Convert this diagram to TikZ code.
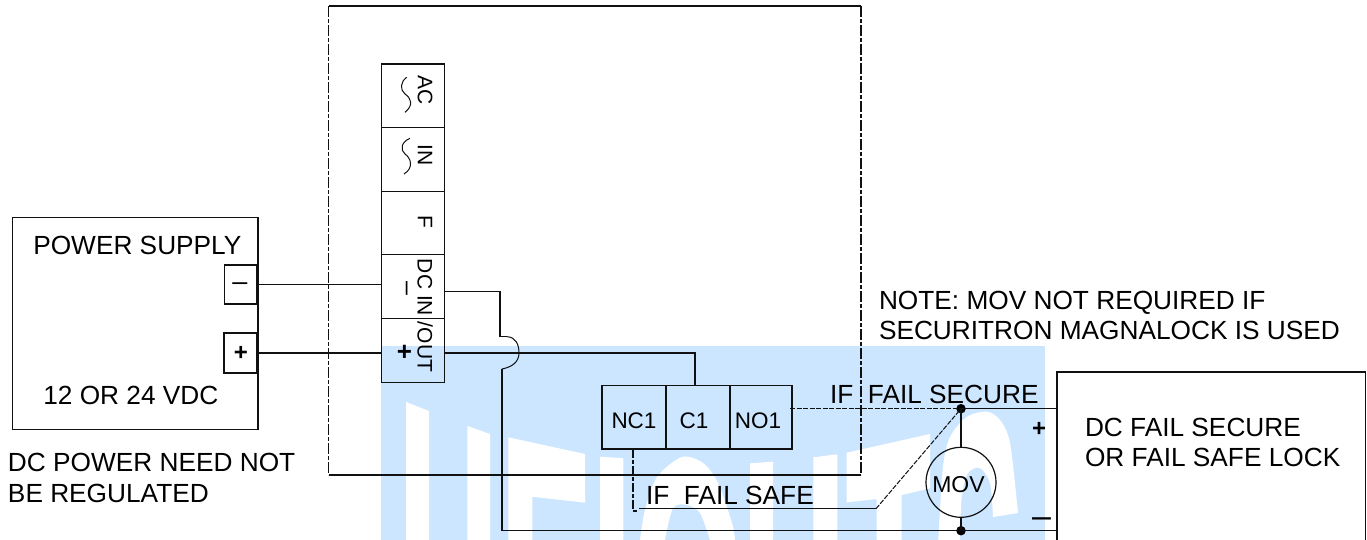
\documentclass[tikz,border=0pt]{standalone}
\usepackage{fontspec}
\setmainfont{Liberation Sans}
\usetikzlibrary{calc}
\definecolor{wm}{HTML}{CCE6FF}
\definecolor{ink}{HTML}{111111}
\newcommand{\lbl}{\fontsize{26.25}{30}\selectfont}
\newcommand{\lblm}{\fontsize{22.5}{26}\selectfont}
\tikzset{
  x=1pt,y=-1pt,
  wire/.style={draw=ink,line width=1.3pt},
  dashwire/.style={draw=ink,line width=1.2pt,dash pattern=on 5pt off 1.5pt},
  boxn/.style={draw=ink,line width=1.4pt,rectangle,inner sep=0pt,outer sep=0pt},
  txt/.style={anchor=base west,inner sep=0pt,outer sep=0pt,text=black,font=\lbl},
  midtxt/.style={inner sep=0pt,outer sep=0pt,text=black,font=\lblm},
  rottxt/.style={inner sep=0pt,outer sep=0pt,text=black,font=\fontsize{21}{24}\selectfont,rotate=-90},
  dotn/.style={circle,fill=black,inner sep=0pt,minimum size=9.5pt,outer sep=0pt},
  wmw/.style={fill=white,draw=none},
}
\begin{document}
\begin{tikzpicture}
\useasboundingbox (0,0) rectangle (1367,540);
% watermark
\fill[wm] (381,346) rectangle (1045,540);
\fill[wmw] (406,402)--(429,411)--(429,540)--(406,540)--cycle;
\fill[wmw] (467.3,426)--(490,434)--(490,540)--(467.3,540)--cycle;
\fill[wmw] (508.3,437.3)--(585,454)--(585,502.7)--(532.3,496.7)--(532.3,540)--(508.3,540)--cycle;
\fill[wmw] (600,456.7)--(623.3,458.3)--(623.3,540)--(600,540)--cycle;
\fill[wmw] plot[smooth] coordinates {(640,540)(645,510)(657,477)(682,457)(703,463)(718,483)(732,523)(735,540)}
  -- (710,540) -- plot[smooth] coordinates {(710,540)(700,513)(687,505)(673,508)(665,540)} -- cycle;
\fill[wmw] (750,463.3)--(773,461.7)--(773,540)--(750,540)--cycle;
\fill[wmw] (813.3,457.3)--(837.3,454.3)--(837.3,540)--(813.3,540)--cycle;
\fill[wmw] (846.7,452.7)--(930,434)--(930,488.3)--(901.7,495)--(901.7,540)--(876.7,540)--(876.7,499)--(846.7,502.3)--cycle;
\fill[wmw] plot[smooth] coordinates {(938.3,540)(943,467)(950,437)(966.7,417)(986.7,411.7)(1000,420)(1010,443)(1018,513)}
  -- (993,517) -- plot[smooth] coordinates {(993,517)(990,483)(980,468)(968,473)(961.7,497)(960,540)} -- cycle;

% enclosure
\coordinate (encTL) at (328.5,6);
\coordinate (encTR) at (861,6);
\coordinate (encBL) at (328.5,475);
\coordinate (encBR) at (861,475);
\draw[wire] (encTL) -- (encTR);
\draw[wire] (encBL) -- (encBR);
\draw[draw=ink,line width=1.5pt,dash pattern=on 11pt off 2pt on 4pt off 2pt] (encTL) -- (encBL);
\draw[draw=ink,line width=1.5pt,dash pattern=on 11pt off 2pt on 4pt off 2pt] (encTR) -- (encBR);

% power supply
\node[boxn,minimum width=245.5pt,minimum height=212pt] (psu) at (135.2,323.4) {};
\node[txt] (psutitle) at (33.3,254) {POWER SUPPLY};
\node[txt] (psuv) at (43.3,404) {12 OR 24 VDC};
\node[boxn,fill=white,minimum width=32pt,minimum height=39pt] (pm) at (240.7,284.5) {};
\node[boxn,fill=white,minimum width=33pt,minimum height=40pt] (pp) at (240.5,353) {};
\node[midtxt,font=\fontsize{27}{28}\selectfont] (pmt) at (240,287) {–};
\node[midtxt,font=\fontsize{24}{26}\selectfont\bfseries] (ppt) at (241,353.5) {+};
\node[txt] (n1) at (8,471) {DC POWER NEED NOT};
\node[txt] (n2) at (8,502) {BE REGULATED};

% terminal block
\node[boxn,fill=none,minimum width=63pt,minimum height=63.7pt] (tac) at (413.2,95.9) {};
\node[boxn,minimum width=63pt,minimum height=64pt] (tin) at (413.2,159.7) {};
\node[boxn,minimum width=63pt,minimum height=63pt] (tf) at (413.2,223.2) {};
\node[boxn,minimum width=63pt,minimum height=64pt] (tm) at (413.2,286.7) {};
\node[boxn,minimum width=63pt,minimum height=63.6pt] (tp) at (413.2,350.5) {};
\node[rottxt] (tact) at (425,90) {AC};
\node[rottxt] (tint) at (425,155) {IN};
\node[rottxt] (tft) at (425,221.7) {F};
\node[rottxt] (tdc) at (425,315.5) {DC IN /OUT};
\node[rottxt,font=\fontsize{25}{26}\selectfont] (tmt) at (404,288.5) {–};
\node[rottxt,rotate=90,font=\fontsize{26}{26}\selectfont\bfseries] (tpt) at (404.5,352.5) {+};
\draw[draw=ink,line width=1pt] (406.7,77.3) .. controls (400,82) and (400,90) .. (405,94) .. controls (411,98) and (414,105) .. (405,112.3);
\draw[draw=ink,line width=1pt] (410,138.3) .. controls (401,142) and (400,150) .. (405,154) .. controls (411,158) and (414,168) .. (404,174);

% relay
\node[boxn,minimum width=64pt,minimum height=63.7pt] (nc) at (634,417.2) {};
\node[boxn,minimum width=64pt,minimum height=63.7pt] (c1) at (698,417.2) {};
\node[boxn,minimum width=62pt,minimum height=63.7pt] (no) at (761,417.2) {};
\node[midtxt] (nct) at (634,420.7) {NC1};
\node[midtxt] (c1t) at (694,420.7) {C1};
\node[midtxt] (not) at (758,420.7) {NO1};

% lock
\coordinate (lockTL) at (1056.7,372);
\coordinate (lockTR) at (1365.5,372);
\coordinate (lockBL) at (1056.7,540);
\coordinate (lockBR) at (1365.5,540);
\draw[draw=ink,line width=1.6pt] (lockBL) -- (lockTL) -- (lockTR) -- (lockBR);
\node[txt] (l1) at (1085,436) {DC FAIL SECURE};
\node[txt] (l2) at (1085,466) {OR FAIL SAFE LOCK};
\node[midtxt,font=\fontsize{24}{26}\selectfont\bfseries] (lp) at (1039,429) {+};
\node[midtxt,font=\fontsize{34}{36}\selectfont] (lm) at (1041.5,522.5) {–};

% MOV
\node[dotn] (d1) at (961,408.7) {};
\node[dotn] (d2) at (961,530.7) {};
\node[circle,draw=ink,line width=1.2pt,minimum size=70pt,inner sep=0pt,outer sep=0pt] (mov) at (961,482.3) {};
\node[midtxt,font=\fontsize{23}{26}\selectfont] (movt) at (958.5,485) {MOV};

% labels
\node[txt] (secure) at (830,403) {IF\ \ FAIL SECURE};
\node[txt] (safe) at (646,504) {IF\ \ FAIL SAFE};
\node[txt] (note1) at (879,309) {NOTE: MOV NOT REQUIRED IF};
\node[txt] (note2) at (879,339) {SECURITRON MAGNALOCK IS USED};

% wires
\draw[wire] (pm.east) -- (tm.west |- pm.east);
\draw[wire] (pp.east) -- (tp.west |- pp.east);
\coordinate (wa) at (500,291.7);
\coordinate (wb) at (500,336.7);
\coordinate (wc) at (502,369);
\coordinate (wd) at (502,530.7);
\draw[wire] (tm.east |- wa) -- (wa) -- (wb) -- (507,336.7);
\draw[draw=ink,line width=1pt] (507,336.7) .. controls (516,337) and (519,345) .. (519,353) .. controls (519,362) and (512,367) .. (wc);
\draw[wire] (wc) -- (wd) -- (wd -| lockBL);
\coordinate (we) at (695,353);
\draw[wire] (tp.east |- pp.east) -- (we) -- (we |- c1.north);
\draw[dashwire] (no.east) ++(-2,-8.5) coordinate (nostart) -- (d1.center);
\draw[wire] (d1.center) -- (d1 -| lockTL);
\draw[wire,line width=1.1pt] (d1.center) -- (mov.north);
\draw[wire,line width=1.1pt] (mov.south) -- (d2.center);
\coordinate (s1) at (639,508.7);
\coordinate (s2) at (876,508.7);
\coordinate (s3) at (633,511);
\draw[wire,line width=1.5pt] (s1) -- (s2);
\draw[draw=ink,line width=1pt,dash pattern=on 5pt off 1.5pt] (s2) -- (d1.center);
\draw[draw=ink,line width=1.5pt,dash pattern=on 9pt off 2pt on 4pt off 2pt] (nc.south |- nc.south) ++(-1,0) coordinate (ncs) -- (ncs |- s3) -- ++(4,0);
\end{tikzpicture}
\end{document}
